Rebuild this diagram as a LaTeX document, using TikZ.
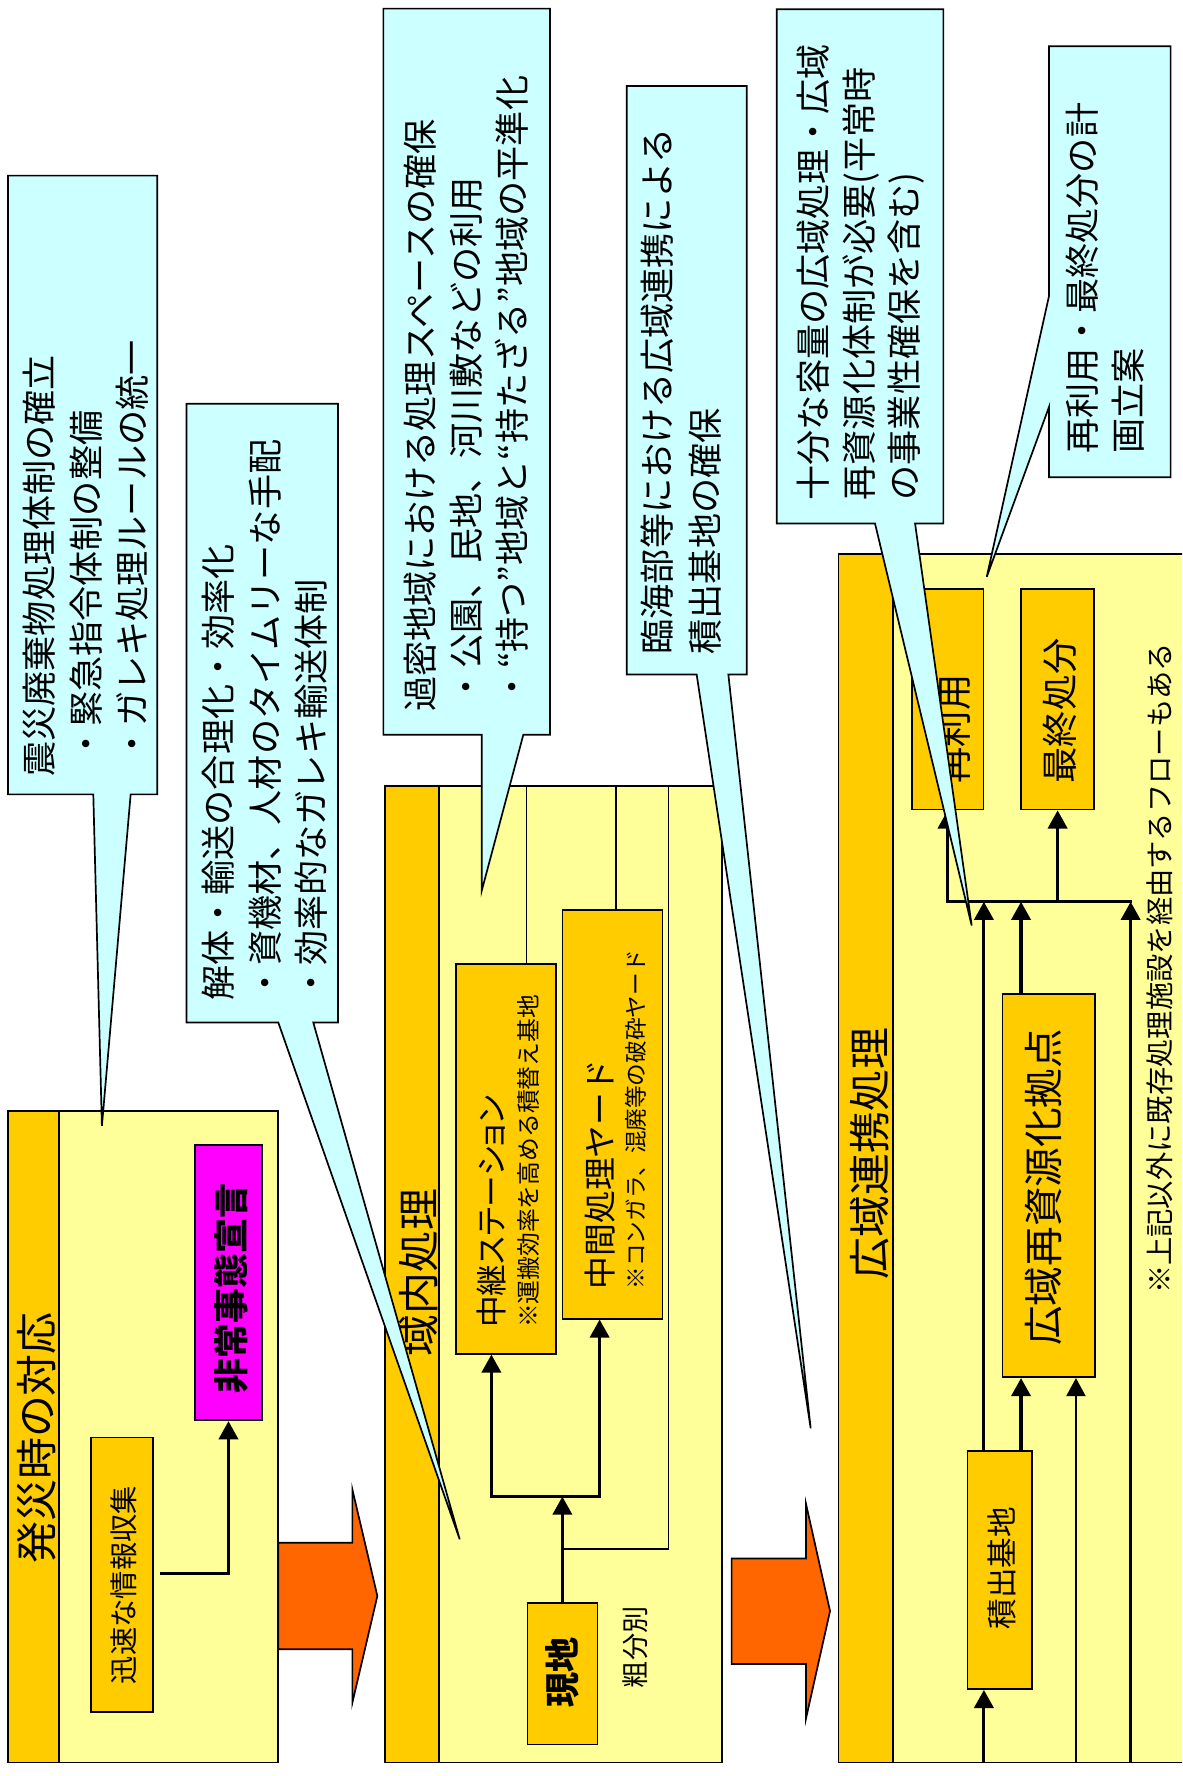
\documentclass[tikz,border=0pt]{standalone}
\usepackage{fontspec}
\setmainfont{Noto Sans CJK JP}
\usetikzlibrary{arrows.meta}
\definecolor{pyellow}{HTML}{FFFF99}
\definecolor{porange}{HTML}{FFCC00}
\definecolor{pcyan}{HTML}{CCFFFF}
\definecolor{pmagenta}{HTML}{FF00FF}
\definecolor{parrow}{HTML}{FF6600}
\newcommand\fsz[2]{\fontsize{#1pt}{#2pt}\selectfont}
\begin{document}
\begin{tikzpicture}[x=1pt,y=-1pt,
  panel/.style={draw=black, line width=1.5pt, fill=pyellow},
  bar/.style={draw=black, line width=1.5pt, fill=porange},
  box/.style={draw=black, line width=1.5pt, fill=porange, inner sep=0pt, rectangle},
  callout/.style={draw=black, line width=1.5pt, fill=pcyan},
  bigarrow/.style={draw=black, line width=1.5pt, fill=parrow},
  conn/.style={line width=2.8pt, -{Triangle[width=17pt,length=16pt]}},
  connthin/.style={line width=1.5pt, -{Triangle[width=17pt,length=16pt]}},
  flow/.style={line width=2.6pt, line cap=rect},
  thinline/.style={line width=1.5pt},
  vt/.style={rotate=90, inner sep=0pt},
  ctext/.style={rotate=90, inner sep=0pt, anchor=base west, align=left},
]
\useasboundingbox (0,0) rectangle (1044,1568.6);
\clip (0,0) rectangle (1044,1568.6);

% ---------- panels ----------
\draw[panel] (7,981) rectangle (245.8,1556.6);
\draw[bar] (7,981) rectangle (52,1556.6);
\draw[panel] (340,694) rectangle (637.4,1556.6);
\draw[bar] (340,694) rectangle (387.5,1556.6);
\fill[pyellow] (740.5,489.2) rectangle (1050,1556.6);
\draw[line width=1.5pt] (1050,489.2) -- (740.5,489.2) -- (740.5,1556.6) -- (1050,1556.6);
\draw[bar] (740.5,489.2) rectangle (788.5,1556.6);

% ---------- boxes ----------
\node[box, minimum width=54.6pt, minimum height=242.4pt] (info) at (107.7,1390.8) {};
\node[box, fill=pmagenta, minimum width=59.6pt, minimum height=242.9pt] (hijou) at (201.8,1133) {};
\node[box, minimum width=88.2pt, minimum height=344pt] (chukei) at (446.9,1023.6) {};
\node[box, minimum width=88.4pt, minimum height=360.7pt] (chukan) at (540.9,984.3) {};
\node[box, minimum width=61.8pt, minimum height=125.1pt] (genchi) at (496.7,1478.2) {};
\node[box, minimum width=63.3pt, minimum height=195pt] (sairiyou) at (836.9,617.5) {};
\node[box, minimum width=64.5pt, minimum height=195pt] (saishu) at (934.1,617.5) {};
\node[box, minimum width=81.8pt, minimum height=338.4pt] (kouiki) at (926.2,1047.2) {};
\node[box, minimum width=57.1pt, minimum height=210.5pt] (tsumi) at (883,1386.6) {};

% ---------- connectors panel 1 ----------
\coordinate (c1) at (141.5,1390);
\draw[conn] (c1) -| (hijou.south);

% ---------- connectors panel 2 ----------
\coordinate (t2a) at (465,694);
\coordinate (t2b) at (544,694);
\coordinate (t2c) at (590.3,694);
\coordinate (j2c) at (496.7,1367.9);
\draw[thinline] (t2a |- chukei.north) -- (t2a);
\draw[thinline] (t2b |- chukan.north) -- (t2b);
\draw[thinline] (j2c) -| (t2c);
\coordinate (j2) at (496.7,1321.8);
\coordinate (j2a) at (434,1321.8);
\coordinate (j2b) at (529.6,1321.8);
\draw[conn] (genchi.north) -- (j2);
\draw[flow] (j2a) -- (j2b);
\draw[conn] (j2a) -- (j2a |- chukei.south);
\draw[conn] (j2b) -- (j2b |- chukan.south);

% ---------- connectors panel 3 ----------
\coordinate (h3l) at (836.9,796.5);
\coordinate (h3r) at (998.6,796.5);
\coordinate (b3a) at (869,1556.6);
\coordinate (b3c) at (950.3,1556.6);
\coordinate (b3d) at (998.6,1556.6);
\coordinate (xk) at (901.8,0);
\draw[flow] (h3l) -- (h3r);
\draw[conn] (h3l) -- (sairiyou.south);
\draw[conn] (saishu.south |- h3l) -- (saishu.south);
\draw[conn] (b3a) -- (b3a |- tsumi.south);
\draw[conn] (b3a |- tsumi.north) -- (b3a |- h3l);
\draw[conn] (xk |- tsumi.north) -- (xk |- kouiki.south);
\draw[conn] (xk |- kouiki.north) -- (xk |- h3l);
\draw[connthin] (b3c) -- (b3c |- kouiki.south);
\draw[conn] (b3d) -- (h3r);

% ---------- texts in panels ----------
\node[vt, font=\fsz{37}{37}] (tt1) at (32,1270) {発災時の対応};
\node[vt, font=\fsz{25}{25}] (tinfo) at (108.9,1400) {迅速な情報収集};
\node[vt, font=\fsz{31}{31}\bfseries] (thijou) at (204.6,1138) {非常事態宣言};
\node[vt, font=\fsz{37}{37}] (tt2) at (370,1124) {域内処理};
\node[vt, anchor=west, font=\fsz{28}{28}\addfontfeature{RawFeature=+palt}] (tchukei) at (434,1173) {中継ステーション};
\node[vt, anchor=west, font=\fsz{21}{21}] (tchukeinote) at (466.4,1173) {※運搬効率を高める積替え基地};
\node[vt, anchor=west, font=\fsz{29}{29}] (tchukan) at (530,1139) {中間処理ヤード};
\node[vt, anchor=west, font=\fsz{20}{20}] (tchukannote) at (562,1139) {※コンガラ、混廃等の破砕ヤード};
\node[vt, font=\fsz{31}{31}\bfseries] (tgenchi) at (496.5,1477) {現地};
\node[vt, font=\fsz{24}{24}] (tsobun) at (560.9,1455) {粗分別};
\node[vt, font=\fsz{37}{37}] (tt3) at (768.4,1019) {広域連携処理};
\node[vt, anchor=west, font=\fsz{32}{32}] (tsairiyou) at (842.8,692) {再利用};
\node[vt, anchor=west, font=\fsz{32}{32}] (tsaishu) at (936.2,692) {最終処分};
\node[vt, font=\fsz{35}{35}] (tkouiki) at (921.5,1048.6) {広域再資源化拠点};
\node[vt, font=\fsz{27}{27}] (ttsumi) at (884.7,1385) {積出基地};
\node[vt, anchor=west, font=\fsz{25}{25}] (tnote) at (1024.6,1143) {※上記以外に既存処理施設を経由するフローもある};

% ---------- big arrows ----------
\draw[bigarrow] (245.8,1362.5) -- (311.2,1362.5) -- (311.2,1315.4) -- (333.3,1409.6) -- (311.2,1503.9) -- (311.2,1456.7) -- (245.8,1456.7) -- cycle;
\draw[bigarrow] (646.2,1376.4) -- (711.9,1376.4) -- (711.9,1328.4) -- (733.1,1422.9) -- (711.9,1517.7) -- (711.9,1469.7) -- (646.2,1469.7) -- cycle;

% ---------- callouts ----------
\draw[callout] (7,155.1) -- (138.8,155.1) -- (138.8,701.6) -- (115.4,701.6) -- (90,994.4) -- (82.4,701.6) -- (7,701.6) -- cycle;
\draw[callout] (164.7,356.6) -- (298.5,356.6) -- (298.5,903.1) -- (276.7,903.1) -- (406,1359.5) -- (245.8,903.1) -- (164.7,903.1) -- cycle;
\draw[callout] (338.6,7.6) -- (485.8,7.6) -- (485.8,649) -- (462.2,649) -- (425.4,787) -- (425.4,649) -- (338.6,649) -- cycle;
\draw[callout] (553.5,76) -- (659.5,76) -- (659.5,595.7) -- (643.3,595.7) -- (716,1261.5) -- (615.3,595.7) -- (553.5,595.7) -- cycle;
\draw[callout] (686,8.2) -- (833.2,8.2) -- (833.2,462.3) -- (808.2,462.3) -- (858.2,817.4) -- (772.8,462.3) -- (686,462.3) -- cycle;
\draw[callout] (926.5,40.8) -- (1033.9,40.8) -- (1033.9,421.5) -- (926.5,421.5) -- (926.5,359.4) -- (871.5,509.5) -- (926.5,261.4) -- cycle;

% base anchor of a multi-line node = baseline of its last line
\node[ctext, font=\fsz{31}{41}] (tc1) at (128.8,686) {震災廃棄物処理体制の確立\\\hspace*{13pt}・緊急指令体制の整備\\\hspace*{13pt}・ガレキ処理ルールの統一};
\node[ctext, font=\fsz{31}{41}] (tc2) at (286.8,884) {解体・輸送の合理化・効率化\\・資機材、人材のタイムリーな手配\\・効率的なガレキ輸送体制};
\node[ctext, font=\fsz{31}{40.5}] (tc3) at (463.8,629) {過密地域における処理スペースの確保\\\hspace*{7pt}・公園、民地、河川敷などの利用\\\hspace*{7pt}・“持つ”地域と“持たざる”地域の平準化};
\node[ctext, font=\fsz{31}{42.7}] (tc4) at (634.5,578) {臨海部等における広域連携による\\積出基地の確保};
\node[ctext, font=\fsz{31}{40}] (tc5) at (810.2,442) {十分な容量の広域処理・広域\\再資源化体制が必要(平常時\\の事業性確保を含む)};
\node[ctext, font=\fsz{31}{41}] (tc6) at (1008.2,401) {再利用・最終処分の計\\画立案};
\end{tikzpicture}
\end{document}
